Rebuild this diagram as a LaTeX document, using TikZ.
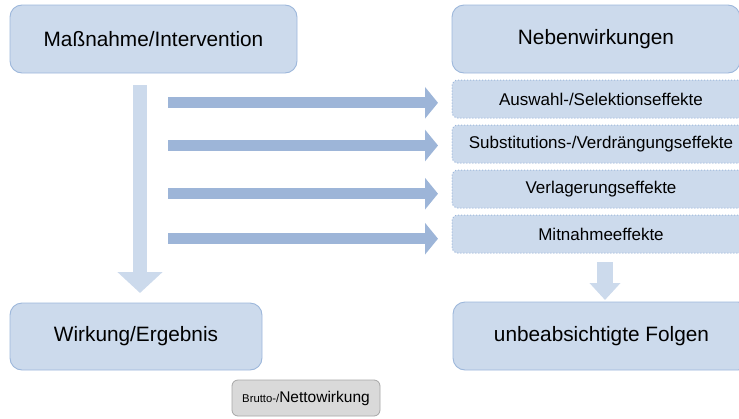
\documentclass[tikz,border=0pt]{standalone}
\usepackage{fontspec}
\setmainfont{Liberation Sans}
\usetikzlibrary{arrows.meta}
\definecolor{boxfill}{HTML}{CCDAEC}
\definecolor{boxline}{HTML}{9DB7DB}
\definecolor{flowarrow}{HTML}{9DB5D8}
\definecolor{mainarrow}{HTML}{CCDAEC}
\definecolor{grayfill}{HTML}{D9D9D9}
\definecolor{grayline}{HTML}{A6A6A6}
\tikzset{
  bigbox/.style={draw=boxline, line width=0.9pt, fill=boxfill, rounded corners=12pt,
    inner sep=0pt, font=\fontsize{20.8}{24}\selectfont, text=black},
  effectbox/.style={draw=boxline, line width=1pt, dotted, fill=boxfill, rounded corners=6pt,
    inner sep=0pt, font=\fontsize{17}{20}\selectfont, text=black},
  grossbox/.style={draw=grayline, line width=0.8pt, fill=grayfill, rounded corners=6pt,
    inner sep=0pt, text=black},
  sidearrow/.style={draw=flowarrow, line width=11pt, -{Triangle[width=31pt,length=13pt]}},
  downarrow/.style={draw=mainarrow, line width=14pt, -{Triangle[width=44pt,length=21pt]}},
  smalldown/.style={draw=mainarrow, line width=16pt, -{Triangle[width=30pt,length=17pt]}}
}
\begin{document}
\begin{tikzpicture}[x=1pt,y=-1pt]
\useasboundingbox (0,0) rectangle (739,418);

% main boxes
\node[bigbox, minimum width=287pt, minimum height=68pt] (massnahme) at (153.5,39) {Maßnahme/Intervention};
\node[bigbox, minimum width=288pt, minimum height=68pt] (neben) at (596,39) {Nebenwirkungen};
\node[bigbox, minimum width=252pt, minimum height=67pt] (wirkung) at (136,336.5) {Wirkung/Ergebnis};
\node[bigbox, minimum width=297pt, minimum height=68pt] (folgen) at (601.5,336) {unbeabsichtigte Folgen};

% side effects
\node[effectbox, minimum width=298pt, minimum height=38pt] (e1) at (601,99) {Auswahl-/Selektionseffekte};
\node[effectbox, minimum width=298pt, minimum height=38pt] (e2) at (601,144) {Substitutions-/Verdrängungseffekte};
\node[effectbox, minimum width=298pt, minimum height=38pt] (e3) at (601,189) {Verlagerungseffekte};
\node[effectbox, minimum width=298pt, minimum height=38pt] (e4) at (601,234) {Mitnahmeeffekte};

% gross/net label
\node[grossbox, minimum width=148pt, minimum height=36pt] (brutto) at (306,398)
  {\fontsize{11.3}{14}\selectfont Brutto-/\fontsize{15.5}{18}\selectfont Nettowirkung};

% arrow end points
\coordinate (vs) at (140,85);
\coordinate (ve) at (140,293);
\coordinate (a1s) at (168,102.8);
\coordinate (a1e) at (438,102.8);
\coordinate (a2s) at (168,145.5);
\coordinate (a2e) at (438,145.5);
\coordinate (a3s) at (168,193.7);
\coordinate (a3e) at (438,193.7);
\coordinate (a4s) at (168,238.7);
\coordinate (a4e) at (438,238.7);
\coordinate (ss) at (605,262);
\coordinate (se) at (605,300);

% block arrows
\draw[downarrow] (vs) -- (ve);
\draw[sidearrow] (a1s) -- (a1e);
\draw[sidearrow] (a2s) -- (a2e);
\draw[sidearrow] (a3s) -- (a3e);
\draw[sidearrow] (a4s) -- (a4e);
\draw[smalldown] (ss) -- (se);
\end{tikzpicture}
\end{document}
